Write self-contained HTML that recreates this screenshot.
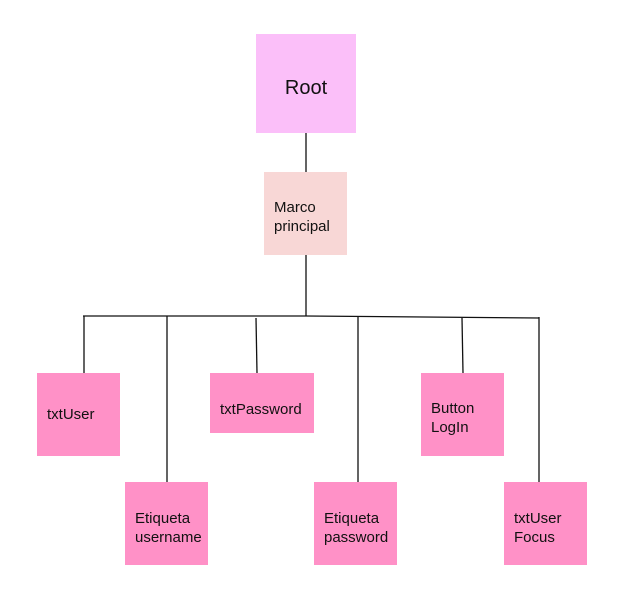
<!DOCTYPE html>
<html><head><style>
body{margin:0;width:624px;height:614px;background:#fff;position:relative;font-family:"Liberation Sans",sans-serif;overflow:hidden}
.b{position:absolute;background:#ff91c7;color:#111;font-size:15px;line-height:19px;box-sizing:border-box;display:flex;align-items:center;padding-left:10px}
</style></head><body>
<svg width="624" height="614" style="position:absolute;left:0;top:0" stroke="#111" stroke-width="1.3">
<line x1="306" y1="133" x2="306" y2="172"/>
<line x1="306" y1="255" x2="306" y2="316"/>
<line x1="83" y1="316" x2="306" y2="316"/>
<line x1="306" y1="316" x2="539" y2="318"/>
<line x1="84" y1="316" x2="84" y2="373"/>
<line x1="167" y1="316" x2="167" y2="482"/>
<line x1="256" y1="318" x2="257" y2="373"/>
<line x1="358" y1="316" x2="358" y2="482"/>
<line x1="462" y1="318" x2="463" y2="373"/>
<line x1="539" y1="317" x2="539" y2="482"/>
</svg>
<div class="b" style="left:256px;top:34px;width:100px;height:99px;background:#fbbff9;font-size:20px;justify-content:center;padding:10px 0 0 0">Root</div>
<div class="b" style="left:264px;top:172px;width:83px;height:83px;background:#f8d7d6;padding-top:7px">Marco<br>principal</div>
<div class="b" style="left:37px;top:373px;width:83px;height:83px">txtUser</div>
<div class="b" style="left:210px;top:373px;width:104px;height:60px;padding-top:12px">txtPassword</div>
<div class="b" style="left:421px;top:373px;width:83px;height:83px;padding-top:6px">Button<br>LogIn</div>
<div class="b" style="left:125px;top:482px;width:83px;height:83px;padding-top:8px">Etiqueta<br>username</div>
<div class="b" style="left:314px;top:482px;width:83px;height:83px;padding-top:8px">Etiqueta<br>password</div>
<div class="b" style="left:504px;top:482px;width:83px;height:83px;padding-top:8px">txtUser<br>Focus</div>
</body></html>
